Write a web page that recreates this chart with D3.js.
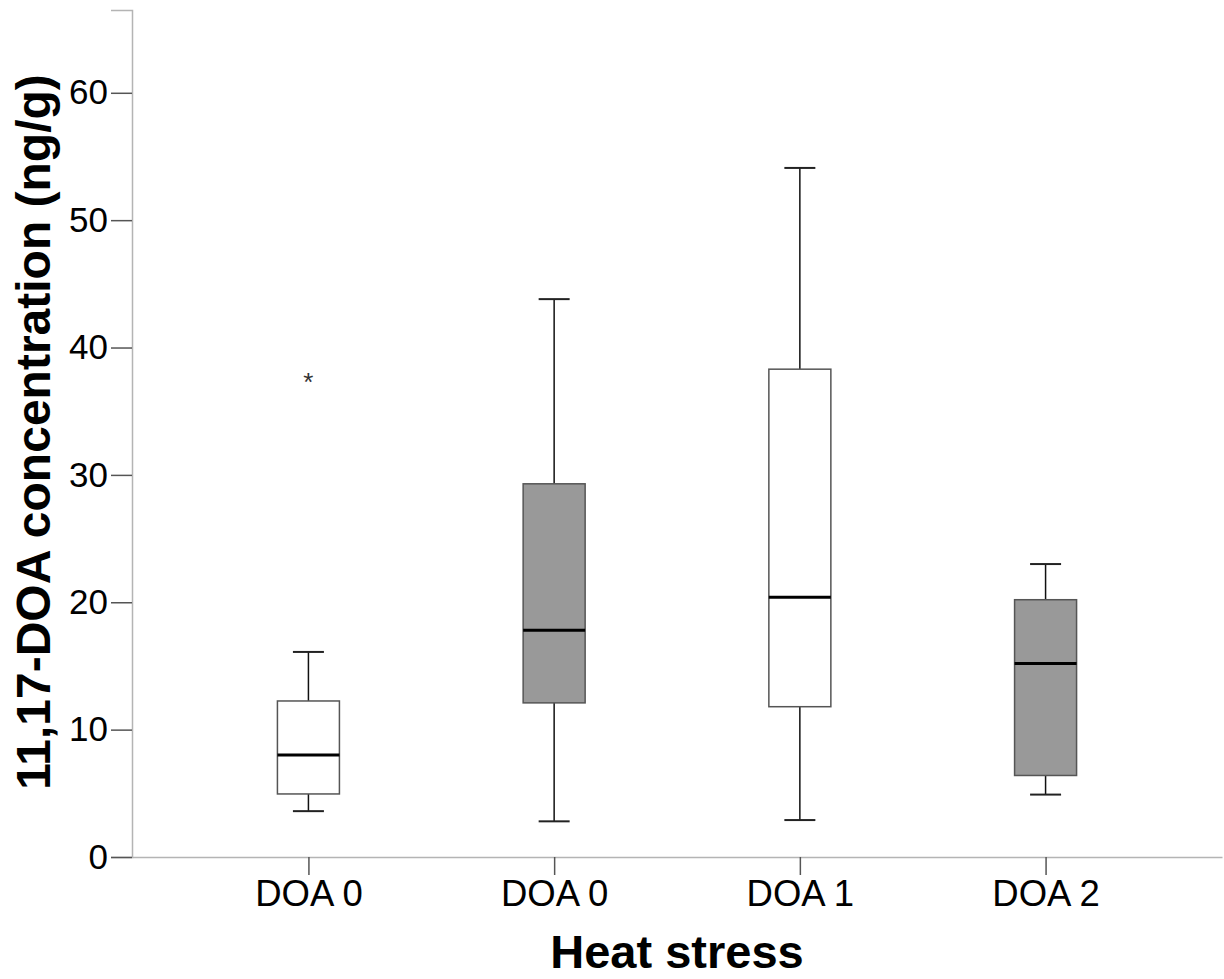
<!DOCTYPE html>
<html>
<head>
<meta charset="utf-8">
<script src="https://cdn.jsdelivr.net/npm/d3@7"></script>
<style>
  body { margin: 0; background: #fff; }
  text { font-family: "Liberation Sans", Arial, sans-serif; }
</style>
</head>
<body>
<svg id="chart" width="1224" height="979"></svg>
<script>
// groups along the x axis (two groups share the label "DOA 0")
var groups = ["g1", "g2", "g3", "g4"];
var groupLabels = ["DOA 0", "DOA 0", "DOA 1", "DOA 2"];
var groupFill = ["#ffffff", "#999999", "#ffffff", "#999999"];

// box plot statistics
var whiskerLow = [3.6, 2.8, 2.9, 4.9];
var q1 = [4.95, 12.1, 11.8, 6.4];
var median = [8.0, 17.8, 20.4, 15.2];
var q3 = [12.25, 29.3, 38.3, 20.2];
var whiskerHigh = [16.1, 43.8, 54.1, 23.0];

// extreme values (asterisk)
var extremeGroup = ["g1"];
var extremeValue = [37.7];

var yTicks = [0, 10, 20, 30, 40, 50, 60];

var svg = d3.select("#chart"),
    margin = {top: 10, right: 2, bottom: 122, left: 132},
    width = +svg.attr("width") - margin.left - margin.right,
    height = +svg.attr("height") - margin.top - margin.bottom,
    g = svg.append("g").attr("transform", "translate(" + margin.left + "," + margin.top + ")");

var x = d3.scalePoint()
    .domain(groups)
    .range([0, width])
    .padding(0.718);

var y = d3.scaleLinear()
    .domain([0, 66.5])
    .range([height, 0]);

var boxW = 62, capW = 31;

var data = groups.map(function (k, i) {
    return {key: k, lo: whiskerLow[i], q1: q1[i], med: median[i], q3: q3[i], hi: whiskerHigh[i], fill: groupFill[i]};
});

// y axis
var yAxis = g.append("g")
    .call(d3.axisLeft(y).tickValues(yTicks).tickSize(21).tickPadding(3).tickFormat(d3.format("d")));
yAxis.select(".domain").attr("stroke", "#b4b4b4").attr("stroke-width", 1.5);
yAxis.selectAll(".tick line").attr("stroke", "#555").attr("stroke-width", 1.5);
yAxis.selectAll(".tick text").attr("font-size", 35).attr("fill", "#000")
    .attr("font-family", "Liberation Sans, Arial, sans-serif");

// x axis
var xAxis = g.append("g")
    .attr("transform", "translate(0," + height + ")")
    .call(d3.axisBottom(x).tickSizeInner(18).tickSizeOuter(0).tickPadding(5)
        .tickFormat(function (d, i) { return groupLabels[i]; }));
xAxis.select(".domain").attr("stroke", "#b4b4b4").attr("stroke-width", 1.5);
xAxis.selectAll(".tick line").attr("stroke", "#555").attr("stroke-width", 1.5);
xAxis.selectAll(".tick text").attr("font-size", 36.5).attr("fill", "#000")
    .attr("font-family", "Liberation Sans, Arial, sans-serif");

var box = g.append("g").selectAll("g")
    .data(data)
    .enter().append("g")
    .attr("transform", function (d) { return "translate(" + x(d.key) + ",0)"; });

// whiskers
box.append("line")
    .attr("x1", 0).attr("x2", 0)
    .attr("y1", function (d) { return y(d.hi); })
    .attr("y2", function (d) { return y(d.q3); })
    .attr("stroke", "#111").attr("stroke-width", 1.5);
box.append("line")
    .attr("x1", 0).attr("x2", 0)
    .attr("y1", function (d) { return y(d.q1); })
    .attr("y2", function (d) { return y(d.lo); })
    .attr("stroke", "#111").attr("stroke-width", 1.5);
box.append("line")
    .attr("x1", -capW / 2).attr("x2", capW / 2)
    .attr("y1", function (d) { return y(d.hi); })
    .attr("y2", function (d) { return y(d.hi); })
    .attr("stroke", "#222").attr("stroke-width", 2);
box.append("line")
    .attr("x1", -capW / 2).attr("x2", capW / 2)
    .attr("y1", function (d) { return y(d.lo); })
    .attr("y2", function (d) { return y(d.lo); })
    .attr("stroke", "#222").attr("stroke-width", 2);

// boxes
box.append("rect")
    .attr("x", -boxW / 2)
    .attr("width", boxW)
    .attr("y", function (d) { return y(d.q3); })
    .attr("height", function (d) { return y(d.q1) - y(d.q3); })
    .attr("fill", function (d) { return d.fill; })
    .attr("stroke", "#555").attr("stroke-width", 1.5);

// medians
box.append("line")
    .attr("x1", -boxW / 2).attr("x2", boxW / 2)
    .attr("y1", function (d) { return y(d.med); })
    .attr("y2", function (d) { return y(d.med); })
    .attr("stroke", "#000").attr("stroke-width", 3);

// extremes
g.append("g").selectAll("text")
    .data(extremeValue)
    .enter().append("text")
    .attr("x", function (d, i) { return x(extremeGroup[i]); })
    .attr("y", function (d) { return y(d); })
    .attr("dy", "0.55em")
    .attr("text-anchor", "middle")
    .attr("font-size", 26)
    .attr("fill", "#333")
    .text("*");

// axis titles
svg.append("text")
    .attr("x", margin.left + width / 2)
    .attr("y", 968)
    .attr("text-anchor", "middle")
    .attr("font-weight", "bold")
    .attr("font-size", 47)
    .text("Heat stress");

svg.append("text")
    .attr("transform", "translate(50,432) rotate(-90)")
    .attr("text-anchor", "middle")
    .attr("font-weight", "bold")
    .attr("font-size", 48)
    .text("11,17-DOA concentration (ng/g)");
</script>
</body>
</html>
